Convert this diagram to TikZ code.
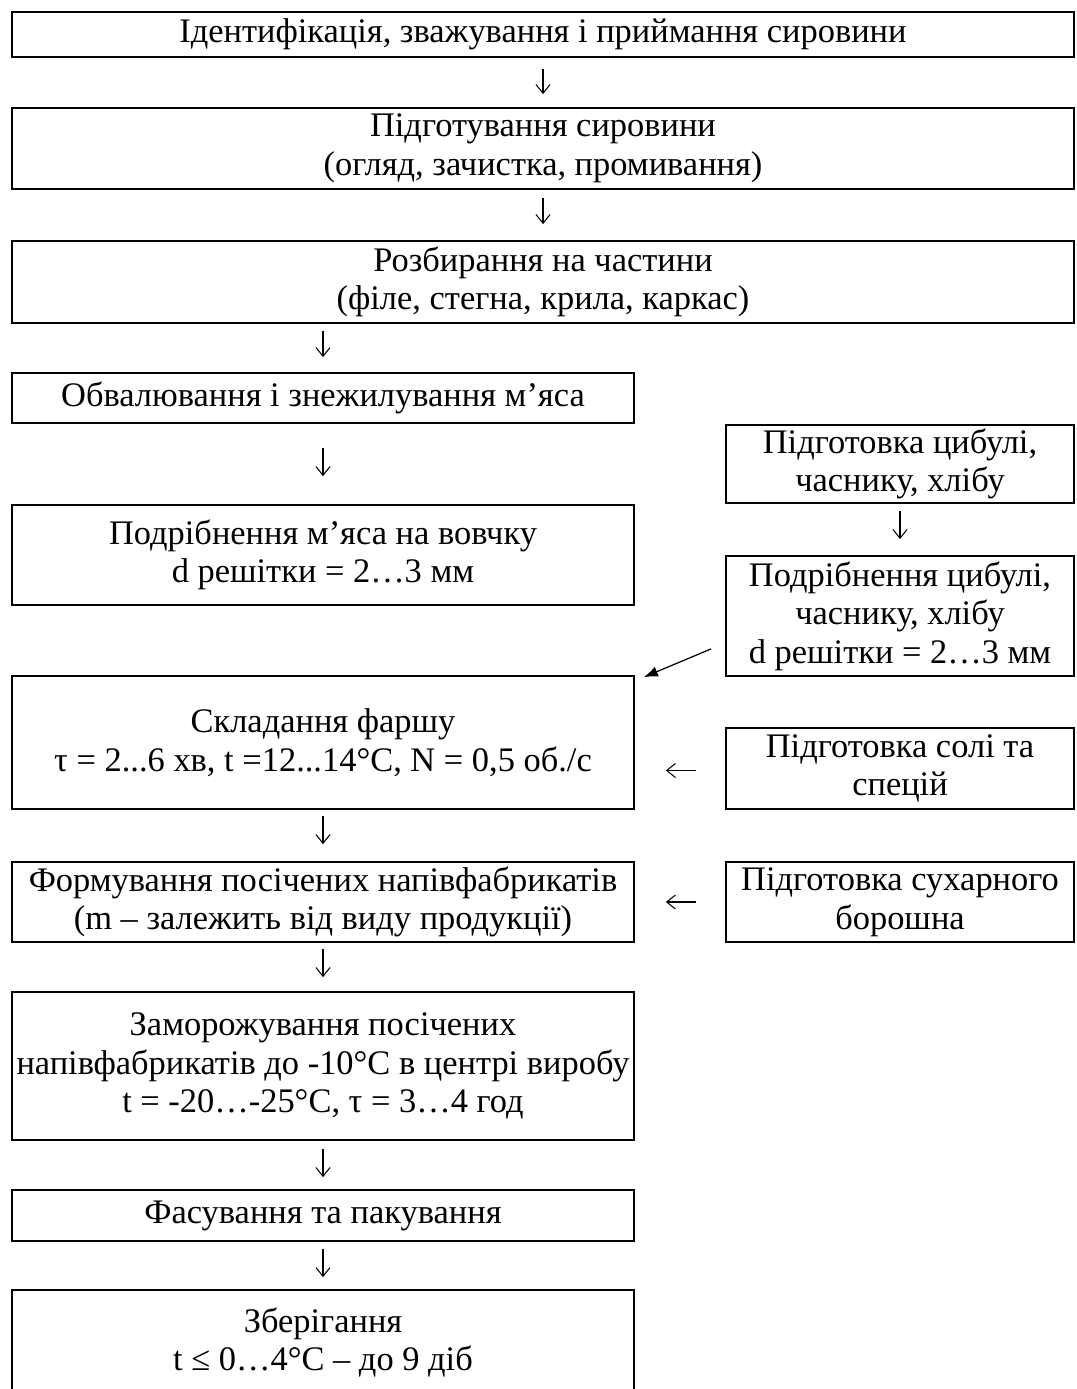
\documentclass[tikz,border=0pt]{standalone}
\usepackage{fontspec}
\setmainfont{Liberation Serif}
\usetikzlibrary{arrows.meta}
\usetikzlibrary{positioning}
\usetikzlibrary{calc}

\begin{document}
\begin{tikzpicture}[
x=0.02cm, y=-0.02cm,
box/.style={rectangle, draw=black, fill=none, line width=1pt, align=center, inner sep=0pt,
  font=\fontsize{19.6}{22}\selectfont},
wide/.style={box, minimum width=21.24cm},
left/.style={box, minimum width=12.44cm},
side/.style={box, minimum width=6.96cm},
arr/.style={-{Straight Barb[length=5pt,width=8pt]}, line width=0.6pt},
diag/.style={-{Latex[length=8pt,width=6pt]}, line width=0.7pt},
]
\useasboundingbox (0,0) rectangle (1076,1389);
% main line
\node[wide, minimum height=0.9cm](b1) at (543,34.5){Ідентифікація, зважування і приймання сировини};
\node[wide, minimum height=1.62cm](b2) at (543,148.5){Підготування сировини\\(огляд, зачистка, промивання)};
\node[wide, minimum height=1.64cm](b3) at (543,282){Розбирання на частини\\(філе, стегна, крила, каркас)};
\node[left, minimum height=1.0cm](b4) at (323,398){Обвалювання і знежилування м’яса};
\node[left, minimum height=2.0cm](b5) at (323,555){Подрібнення м'яса на вовчку\\d решітки = 2…3 мм};
\node[left, minimum height=2.66cm](b6) at (323,742.5){Складання фаршу\\τ = 2...6 хв, t =12...14°C, N = 0,5 об./с};
\node[left, minimum height=1.6cm](b7) at (323,902){Формування посічених напівфабрикатів\\(m – залежить від виду продукції)};
\node[left, minimum height=2.96cm](b8) at (323,1066){Заморожування посічених\\напівфабрикатів до -10°С в центрі виробу\\t = -20…-25°С, τ = 3…4 год};
\node[left, minimum height=1.02cm](b9) at (323,1215.5){Фасування та пакування};
\node[left, minimum height=2.1cm](b10) at (323,1342.5){Зберігання\\t ≤ 0…4°С – до 9 діб};
% side line
\node[side, minimum height=1.56cm](r1) at (900,464){Підготовка цибулі,\\часнику, хлібу};
\node[side, minimum height=2.4cm](r2) at (900,616){Подрібнення цибулі,\\часнику, хлібу\\d решітки = 2…3 мм};
\node[side, minimum height=1.62cm](r3) at (900,768.5){Підготовка солі та\\спецій};
\node[side, minimum height=1.6cm](r4) at (900,902){Підготовка сухарного\\борошна};
% arrows
\draw[arr] ($(b1.south)+(0,11)$) -- ($(b2.north)+(0,-13)$);
\draw[arr] ($(b2.south)+(0,8)$) -- ($(b3.north)+(0,-16)$);
\draw[arr] ($(b3.south -| b4.north)+(0,7)$) -- ($(b4.north)+(0,-15)$);
\draw[arr] ($(b4.south)+(0,24)$) -- ($(b5.north)+(0,-28)$);
\draw[arr] ($(r1.south)+(0,7)$) -- ($(r2.north)+(0,-16)$);
\draw[diag] ($(r2.south west)+(-14,-28)$) -- ($(b6.north east)+(9,2)$);
\draw[arr] ($(r3.west)+(-29,2)$) -- ($(r3.west -| b6.east)+(31,2)$);
\draw[arr] ($(r4.west)+(-29,0)$) -- ($(b7.east)+(31,0)$);
\draw[arr] ($(b6.south)+(0,6)$) -- ($(b7.north)+(0,-17)$);
\draw[arr] ($(b7.south)+(0,6)$) -- ($(b8.north)+(0,-14)$);
\draw[arr] ($(b8.south)+(0,8)$) -- ($(b9.north)+(0,-12)$);
\draw[arr] ($(b9.south)+(0,7)$) -- ($(b10.north)+(0,-12)$);
\end{tikzpicture}
\end{document}
